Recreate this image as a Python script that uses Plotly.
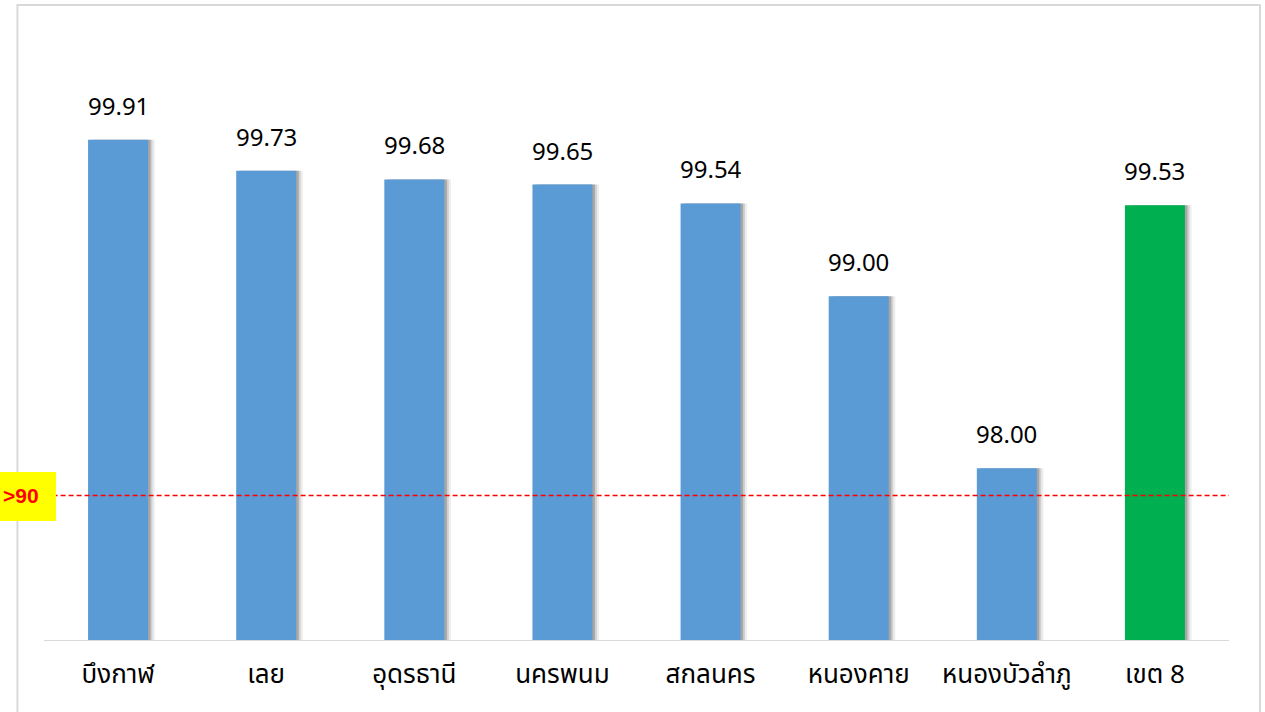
import plotly.graph_objects as go

# ── data ────────────────────────────────────────────────────────────────────
provinces = ["บึงกาฬ", "เลย", "อุดรธานี", "นครพนม", "สกลนคร",
             "หนองคาย", "หนองบัวลำภู", "เขต 8"]
values = [99.91, 99.73, 99.68, 99.65, 99.54, 99.00, 98.00, 99.53]
target_value = 97.8407
target_label = ">90"

BLUE = "#5B9BD5"
GREEN = "#00B050"
FONT = "Noto Sans Thai, Noto Sans, sans-serif"

bar_colors = [GREEN if p == "เขต 8" else BLUE for p in provinces]
W = 0.405  # bar width in category units

fig = go.Figure()

# soft drop-shadow behind each bar
for dx, alpha in [(0.045, 0.07), (0.03, 0.12), (0.017, 0.2)]:
    fig.add_trace(go.Bar(
        x=provinces, y=values,
        width=W, offset=-W / 2 + dx,
        marker=dict(color=f"rgba(0,0,0,{alpha})", line=dict(width=0)),
        hoverinfo="skip", showlegend=False,
    ))

fig.add_trace(go.Bar(
    x=provinces, y=values,
    width=W, offset=-W / 2,
    marker=dict(color=bar_colors, line=dict(width=0)),
    showlegend=False,
))

# value labels above bars
for p, v in zip(provinces, values):
    fig.add_annotation(
        x=p, y=v, text=f"{v:.2f}", showarrow=False,
        yanchor="middle", yshift=32,
        font=dict(family=FONT, size=24, color="#000000"),
    )

# target line + yellow tag
fig.add_shape(
    type="line", xref="paper", yref="y",
    x0=-0.04, x1=1.0, y0=target_value, y1=target_value,
    line=dict(color="#FF0000", width=1.5, dash="5px,3px"),
)
fig.add_shape(
    type="rect", xref="paper", yref="paper",
    x0=-0.06, x1=0.0101, y0=0.2164, y1=0.3055,
    fillcolor="#FFFF00", line=dict(width=0),
)
fig.add_annotation(
    xref="paper", yref="y", x=-0.0025, y=target_value,
    xanchor="right", yanchor="middle", showarrow=False,
    text=f"<b>{target_label}</b>",
    font=dict(family="Liberation Sans, Arial", size=21, color="#FF0000"),
)

# chart frame
fig.add_shape(
    type="rect", xref="paper", yref="paper",
    x0=-0.0224, x1=1.0262, y0=-0.2, y1=1.1545,
    line=dict(color="#D9D9D9", width=2), fillcolor="rgba(0,0,0,0)",
    layer="below",
)

fig.update_layout(
    width=1265, height=712,
    barmode="overlay",
    paper_bgcolor="white", plot_bgcolor="white",
    margin=dict(l=44, r=36, t=90, b=72),
    font=dict(family=FONT, size=22, color="#000000"),
    xaxis=dict(
        showline=True, linecolor="#D9D9D9", linewidth=1,
        ticks="", showgrid=False, ticklabelstandoff=11,
        tickfont=dict(family=FONT, size=26, color="#000000"),
    ),
    yaxis=dict(
        range=[97, 100.2], visible=False, showgrid=False,
    ),
)

fig.write_html(
    "out.html",
    config={"displayModeBar": False},
    post_script="document.body.style.margin='0';",
)
